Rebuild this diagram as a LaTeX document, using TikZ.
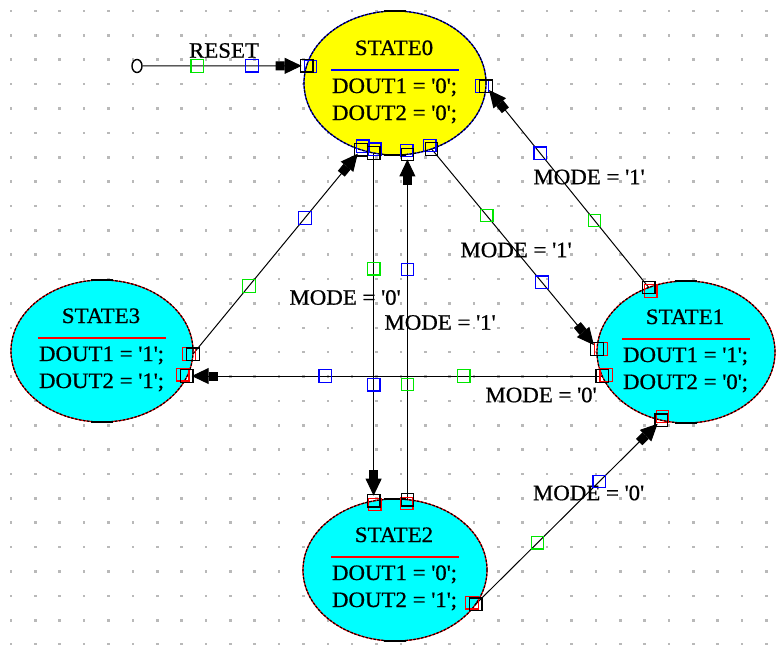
\documentclass[tikz,border=0pt]{standalone}
\usepackage{fontspec}
\setmainfont{Liberation Serif}[FakeBold=0.7,FakeStretch=1.04]
\usetikzlibrary{shapes.geometric,arrows.meta,calc}
\definecolor{dotc}{RGB}{185,185,185}
\definecolor{stY}{RGB}{255,255,0}
\definecolor{stC}{RGB}{0,255,255}
\definecolor{hB}{RGB}{0,0,255}
\definecolor{hG}{RGB}{0,230,0}
\definecolor{hR}{RGB}{255,0,0}
\newcommand{\qmk}{\textquotesingle}
\begin{document}
\begin{tikzpicture}[x=1pt,y=-1pt,
  txt/.style={inner sep=0pt, outer sep=0pt, font=\fontsize{22}{26}\selectfont},
  stbase/.style={ellipse, inner sep=0pt, outer sep=0pt, line width=1.2pt},
  sepline/.style={line width=2pt},
  conn/.style={draw=black, line width=1pt, -{Rectangle[length=9pt,width=9pt]Triangle[length=17pt,width=16pt]}, shorten >=5pt},
  hsq/.style={draw=black, rectangle, minimum size=12.5pt, inner sep=0pt, outer sep=0pt, line width=1.3pt},
  tipbar/.style={draw=black, line width=1.3pt}
]
\useasboundingbox (0,0) rectangle (779,645);
\fill[white] (0,0) rectangle (779,645);
% grid
\foreach \i in {0,...,31}{\foreach \j in {0,...,26}{
  \fill[dotc] ({9.7+24.37*\i},{9.7+24.37*\j}) rectangle ++(2.6,2.6);}}
% states
\node[stbase, fill=stY, draw=hB, minimum width=182pt, minimum height=144pt] (S0) at (395,83) {};
\node[stbase, fill=stC, draw=hR, minimum width=178pt, minimum height=142pt] (S1) at (686,352) {};
\node[stbase, fill=stC, draw=hR, minimum width=184pt, minimum height=142pt] (S2) at (395,570) {};
\node[stbase, fill=stC, draw=hR, minimum width=182pt, minimum height=142pt] (S3) at (102,351) {};
\foreach \s/\w/\h in {S0/182/144, S1/178/142, S2/184/142, S3/182/142}{
  \node[stbase, draw=black, dash pattern=on 2.5pt off 1.5pt, minimum width=\w pt, minimum height=\h pt] (\s o) at (\s.center) {};
  \draw[tipbar] ($(\s.north)+(-11,0)$) -- ($(\s.north)+(11,0)$);
  \draw[tipbar] ($(\s.south)+(-11,0)$) -- ($(\s.south)+(11,0)$);
}
% separators and texts
\foreach \s/\c/\ta/\da/\db in {S0/hB/STATE0/0/0, S1/hR/STATE1/1/0, S2/hR/STATE2/0/1, S3/hR/STATE3/1/1}{
  \draw[sepline, draw=\c] ($(\s.center)+(-64,-13.5)$) -- ($(\s.center)+(64,-13.5)$);
  \node[txt, anchor=base] (\s t) at ($(\s.center)+(-1,-28)$) {\ta};
  \node[txt, anchor=base west] (\s a) at ($(\s.center)+(-63,10)$) {DOUT1 = \qmk\da\qmk;};
  \node[txt, anchor=base west] (\s b) at ($(\s.center)+(-63,37)$) {DOUT2 = \qmk\db\qmk;};
}
% labels
\node[txt] (lR) at (224,50.5) {RESET};
\node[txt] (l01) at (516,250) {MODE = \qmk1\qmk};
\node[txt] (l10) at (589,177) {MODE = \qmk1\qmk};
\node[txt] (l02) at (345,297.5) {MODE = \qmk0\qmk};
\node[txt] (l20) at (440,322.5) {MODE = \qmk1\qmk};
\node[txt] (l13) at (541,395) {MODE = \qmk0\qmk};
\node[txt] (l21) at (588.5,493) {MODE = \qmk0\qmk};
% reset start
\node[draw=black, ellipse, line width=1.4pt, fill=white, minimum width=10pt, minimum height=13pt, inner sep=0pt] (R) at (137,66) {};
% end coordinates for straight vertical/horizontal transitions
\coordinate (e02) at (S0.253.7 |- S2.106.5);
\coordinate (e20) at (S2.80.4 |- S0.279.3);
\coordinate (e13) at (S1.196.8 -| S3.343);
% transitions
\draw[conn] (R) -- node[hsq,draw=hG,pos=1/3] (gR) {} node[hsq,draw=hB,pos=2/3] (bR) {} (S0.169.3);
\draw[conn] (S0.299.7) -- node[hsq,draw=hG,pos=1/3] (g01) {} node[hsq,draw=hB,pos=2/3] (b01) {} (S1.178.7);
\draw[conn] (S1.120.2) -- node[hsq,draw=hG,pos=1/3] (g10) {} node[hsq,draw=hB,pos=2/3] (b10) {} (S0.358.8);
\draw[conn] (S0.253.7) -- node[hsq,draw=hG,pos=1/3] (g02) {} node[hsq,draw=hB,pos=2/3] (b02) {} (e02);
\draw[conn] (S2.80.4) -- node[hsq,draw=hG,pos=1/3] (g20) {} node[hsq,draw=hB,pos=2/3] (b20) {} (e20);
\draw[conn] (S1.196.8) -- node[hsq,draw=hG,pos=1/3] (g13) {} node[hsq,draw=hB,pos=2/3] (b13) {} (e13);
\draw[conn] (S3.358.8) -- node[hsq,draw=hG,pos=1/3] (g30) {} node[hsq,draw=hB,pos=2/3] (b30) {} (S0.243.8);
\draw[conn] (S2.337.2) -- node[hsq,draw=hG,pos=1/3] (g21) {} node[hsq,draw=hB,pos=2/3] (b21) {} (S1.250.6);
% end handles
\foreach \p/\c/\col/\n in {S0.169.3/S0/hB/a, S0.358.8/S0/hB/b, S0.243.8/S0/hB/c, S0.253.7/S0/hB/d,
  e20/S0/hB/e, S0.299.7/S0/hB/f, S1.178.7/S1/hR/g, S1.120.2/S1/hR/h, S1.196.8/S1/hR/i,
  S1.250.6/S1/hR/j, S3.358.8/S3/hR/k, e13/S3/hR/l, e02/S2/hR/m, S2.80.4/S2/hR/n, S2.337.2/S2/hR/o}{
  \node[hsq, draw=\col] (c\n) at ($(\p)!4pt!(\c.center)$) {};
  \node[hsq] (k\n) at (\p) {};
}
\end{tikzpicture}
\end{document}
